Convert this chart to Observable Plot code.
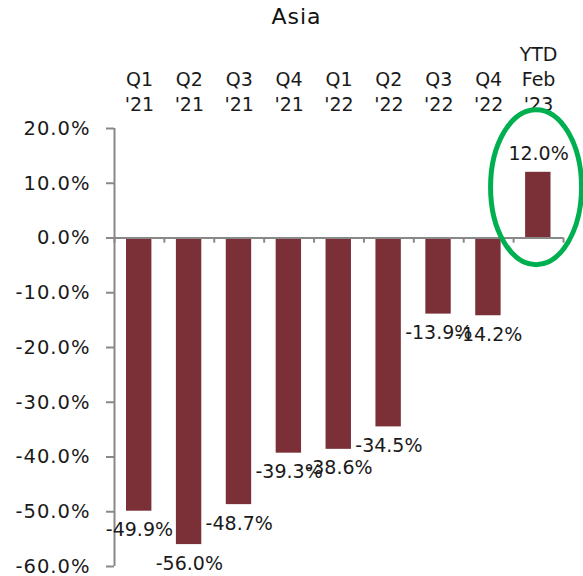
<!DOCTYPE html>
<html>
<head>
<meta charset="utf-8">
<script src="https://cdn.jsdelivr.net/npm/d3@7"></script>
<script src="https://cdn.jsdelivr.net/npm/@observablehq/plot@0.6"></script>
<style>
  html, body { margin: 0; padding: 0; background: #fff; }
  #title { height: 28px; padding-top: 2px; line-height: 30px; font-family: "DejaVu Sans", sans-serif; font-size: 22px; letter-spacing: 1px; text-align: center; padding-left: 5px; color: #111; width: 583px; box-sizing: content-box; }
  svg { display: block; }
</style>
</head>
<body>
<div id="title">Asia</div>
<div id="chart"></div>
<script>
const categories = ["Q1\n'21", "Q2\n'21", "Q3\n'21", "Q4\n'21", "Q1\n'22", "Q2\n'22", "Q3\n'22", "Q4\n'22", "YTD\nFeb\n'23"];
const values = [-49.9, -56.0, -48.7, -39.3, -38.6, -34.5, -13.9, -14.2, 12.0];
const yTicks = [20, 10, 0, -10, -20, -30, -40, -50, -60];
const highlightCategory = "YTD\nFeb\n'23";
const highlightValue = 9.2;

const data = categories.map((c, i) => ({cat: c, value: values[i], label: values[i].toFixed(1) + "%"}));

const W = 583, H = 546, ML = 114, MR = 20, MT = 98, MB = 10;
const step = (W - ML - MR) / categories.length;
const gray = "#888888";
const font = "DejaVu Sans, sans-serif";
const ink = "#1a1a1a";

const chart = Plot.plot({
  width: W, height: H,
  marginLeft: ML, marginRight: MR, marginTop: MT, marginBottom: MB,
  style: {fontFamily: font, background: "#fff", color: ink, overflow: "visible"},
  x: {domain: categories, padding: 0, round: false, axis: null},
  y: {domain: [-60, 20], axis: null},
  marks: [
    Plot.barY(data, {x: "cat", y: "value", fill: "#7A3036", insetLeft: 12, insetRight: 12.5}),
    // vertical axis line
    Plot.ruleX([categories[0]], {dx: -step / 2, y1: -60, y2: 20, stroke: gray, strokeWidth: 2}),
    // zero line
    Plot.ruleY([0], {stroke: gray, strokeWidth: 2}),
    // category boundary ticks
    Plot.ruleX(categories, {x: d => d, dx: -step / 2, y1: 0, y2: -0.95, stroke: gray, strokeWidth: 2}),
    Plot.ruleX([categories[categories.length - 1]], {dx: step / 2, y1: 0, y2: -0.95, stroke: gray, strokeWidth: 2}),
    // y axis
    Plot.axisY({
      ticks: yTicks, tickSize: 8, tickPadding: 16, stroke: gray, strokeWidth: 2, label: null,
      tickFormat: d => d.toFixed(1) + "%", fontSize: 19.5, fill: ink
    }),
    // x axis on top
    Plot.axisX({
      anchor: "top", tickSize: 0, tickPadding: 18, lineHeight: 1.3, fontSize: 19, fill: ink, label: null
    }),
    // data labels
    Plot.text(data.filter(d => d.value < 0), {
      x: "cat", y: "value", text: "label", fontSize: 19, fill: ink, dy: 19, lineAnchor: "middle"
    }),
    Plot.text(data.filter(d => d.value >= 0), {
      x: "cat", y: "value", text: "label", fontSize: 19, fill: ink, dy: -18, lineAnchor: "middle"
    })
  ]
});

document.getElementById("chart").appendChild(chart);

// y tick letter spacing (wider glyphs in reference)
d3.select(chart).selectAll("g[aria-label='y-axis tick label'] text").style("letter-spacing", "1px");

// highlight ellipse
const xs = chart.scale("x"), ys = chart.scale("y");
const cx = xs.apply(highlightCategory) + xs.bandwidth / 2 - 2;
const cy = ys.apply(highlightValue);
d3.select(chart).append("ellipse")
  .attr("cx", cx).attr("cy", cy).attr("rx", 45.5).attr("ry", 77.5)
  .attr("fill", "none").attr("stroke", "#00B050").attr("stroke-width", 5);
</script>
</body>
</html>
